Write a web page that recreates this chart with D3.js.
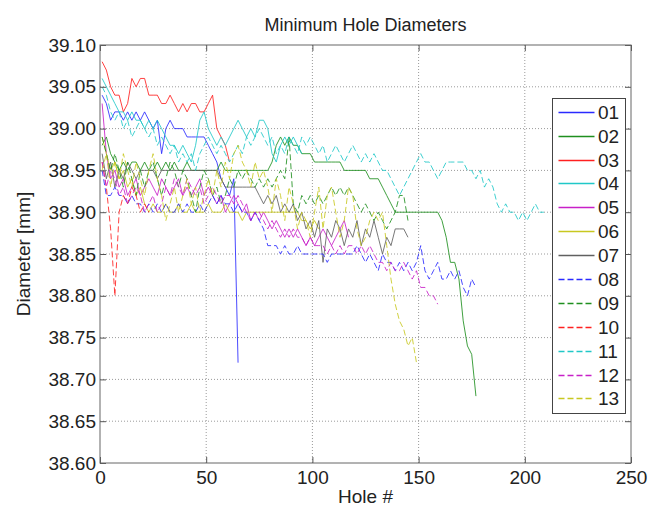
<!DOCTYPE html>
<html>
<head>
<meta charset="utf-8">
<script src="https://cdn.jsdelivr.net/npm/d3@7"></script>
<style>
  body { margin: 0; background: #fff; }
  text { font-family: "Liberation Sans", Arial, sans-serif; fill: #222; }
</style>
</head>
<body>
<div id="chart"></div>
<script>
const FRAME_WIDTH = 658;
const FRAME_HEIGHT = 507;
const MARGINS = { left: 100, right: 27, top: 45, bottom: 44 };

// holes are sampled every other hole, starting at hole 1
const HOLE_START = 1;
const HOLE_STEP = 2;

const seriesNames = ["01", "02", "03", "04", "05", "06", "07", "08", "09", "10", "11", "12", "13"];
const xTicks = [0, 50, 100, 150, 200, 250];
const yTicks = [38.60, 38.65, 38.70, 38.75, 38.80, 38.85, 38.90, 38.95, 39.00, 39.05, 39.10];

const s01 = [39.04,39.03,39.01,39.02,39.02,39.01,39.02,39.01,39.02,39.01,
  39.02,39.01,39.00,39.01,38.97,39.00,39.01,39.00,39.00,39.00,
  38.99,38.99,38.99,38.99,38.99,38.98,38.97,38.96,38.94,38.93,
  38.92,38.94,38.72];
const s02 = [38.98,38.99,38.97,38.96,38.95,38.96,38.95,38.96,38.96,38.95,
  38.96,38.95,38.95,38.96,38.95,38.96,38.95,38.96,38.95,38.95,
  38.96,38.95,38.95,38.95,38.95,38.95,38.95,38.95,38.96,38.95,
  38.95,38.95,38.95,38.95,38.95,38.95,38.95,38.95,38.95,38.95,
  38.96,38.98,38.99,38.98,38.99,38.98,38.98,38.97,38.97,38.97,
  38.96,38.96,38.96,38.96,38.96,38.96,38.96,38.95,38.95,38.95,
  38.95,38.95,38.95,38.94,38.94,38.94,38.93,38.92,38.91,38.90,
  38.90,38.90,38.90,38.90,38.90,38.90,38.90,38.90,38.90,38.90,
  38.89,38.87,38.84,38.84,38.82,38.77,38.74,38.73,38.68];
const s03 = [39.08,39.07,39.05,39.04,39.04,39.02,39.03,39.06,39.05,39.06,
  39.06,39.04,39.04,39.04,39.03,39.03,39.04,39.03,39.02,39.03,
  39.02,39.03,39.03,39.02,39.02,39.03,39.04,39.00,38.99,38.98,38.96];
const s04 = [39.06,39.05,39.04,39.03,39.02,39.02,39.01,39.02,39.01,39.01,
  39.00,39.01,39.00,39.01,39.00,38.99,38.98,38.98,38.97,38.98,
  38.97,38.96,38.98,39.01,39.02,39.00,38.99,38.98,38.99,38.98,
  38.99,39.00,39.01,39.00,38.99,39.00,38.99,39.01,39.01,39.00,
  38.97,38.96,38.98,38.99,38.98,38.99,38.98,38.97];
const s05 = [39.03,38.97,38.94,38.95,38.93,38.94,38.92,38.93,38.94,38.92,
  38.93,38.94,38.93,38.92,38.94,38.93,38.92,38.93,38.94,38.92,
  38.93,38.92,38.93,38.94,38.92,38.93,38.92,38.91,38.92,38.90,
  38.91,38.92,38.91,38.90,38.91,38.89,38.90,38.89,38.90,38.89,
  38.88,38.89,38.88,38.87,38.88,38.87,38.88,38.87,38.86,38.87,
  38.86,38.87,38.88,38.87,38.86,38.87,38.88,38.89,38.87];
const s06 = [38.99,38.97,38.95,38.96,38.94,38.95,38.93,38.94,38.92,38.93,
  38.91,38.90,38.91,38.90,38.90,38.91,38.90,38.90,38.91,38.90,
  38.90,38.91,38.90,38.90,38.90,38.91,38.90,38.90,38.90,38.91,
  38.90,38.90,38.90,38.89,38.90,38.90,38.90,38.90,38.90,38.90,
  38.90,38.90,38.90,38.90,38.90,38.90,38.90,38.89,38.89,38.88,38.89,38.88];
const s07 = [38.97,38.94,38.96,38.93,38.95,38.94,38.96,38.95,38.94,38.95,
  38.95,38.95,38.95,38.94,38.95,38.95,38.95,38.95,38.95,38.95,
  38.95,38.95,38.95,38.95,38.95,38.95,38.95,38.95,38.94,38.93,
  38.93,38.93,38.93,38.93,38.93,38.93,38.93,38.92,38.91,38.92,
  38.91,38.92,38.90,38.91,38.90,38.91,38.89,38.90,38.88,38.89,
  38.87,38.89,38.84,38.88,38.87,38.89,38.88,38.86,38.88,38.87,
  38.89,38.86,38.88,38.87,38.89,38.87,38.85,38.87,38.86,38.88,
  38.88,38.88,38.87];
const s08 = [38.95,38.92,38.92,38.93,38.92,38.92,38.91,38.92,38.91,38.91,
  38.90,38.91,38.90,38.91,38.90,38.91,38.90,38.90,38.91,38.90,
  38.91,38.90,38.90,38.91,38.90,38.91,38.92,38.91,38.92,38.91,
  38.91,38.90,38.91,38.90,38.90,38.89,38.90,38.89,38.88,38.86,
  38.86,38.86,38.85,38.86,38.85,38.85,38.86,38.85,38.85,38.85,
  38.85,38.85,38.85,38.84,38.85,38.85,38.85,38.85,38.85,38.85,
  38.86,38.85,38.84,38.85,38.84,38.83,38.85,38.84,38.84,38.83,
  38.84,38.83,38.84,38.83,38.84,38.86,38.83,38.82,38.83,38.84,
  38.82,38.82,38.83,38.82,38.83,38.81,38.80,38.82,38.81];
const s09 = [38.99,38.97,38.95,38.97,38.95,38.93,38.96,38.94,38.92,38.95,
  38.93,38.95,38.96,38.94,38.92,38.94,38.96,38.95,38.93,38.95,
  38.94,38.92,38.90,38.93,38.95,38.94,38.92,38.93,38.91,38.92,
  38.94,38.93,38.95,38.94,38.95,38.94,38.93,38.94,38.93,38.94,
  38.93,38.94,38.95,38.94,38.99,38.91,38.90,38.92,38.91,38.92,
  38.91,38.92,38.91,38.92,38.93,38.92,38.93,38.92,38.93,38.92,
  38.91,38.90,38.91,38.90,38.89,38.90,38.89,38.88,38.89,38.90,
  38.92,38.92,38.89];
const s10 = [38.96,38.93,38.88,38.80,38.90,38.92,38.91,38.93,38.92,38.90,38.91,38.90];
const s11 = [39.05,39.04,39.02,39.01,39.02,39.00,39.01,38.99,39.00,39.01,
  39.00,38.99,39.00,38.98,38.99,38.98,38.97,38.98,38.96,38.97,
  38.96,38.97,38.95,38.97,38.98,38.99,38.98,38.97,38.98,38.97,
  38.96,38.97,38.98,38.97,38.99,38.98,38.99,39.00,38.99,38.98,
  38.99,38.97,38.98,38.97,38.99,38.98,38.97,38.99,38.98,38.99,
  38.98,38.97,38.98,38.96,38.97,38.98,38.97,38.96,38.97,38.98,
  38.97,38.96,38.97,38.96,38.97,38.96,38.95,38.95,38.94,38.93,
  38.92,38.93,38.94,38.95,38.96,38.97,38.96,38.96,38.95,38.94,
  38.95,38.96,38.96,38.96,38.96,38.96,38.95,38.95,38.94,38.95,
  38.93,38.94,38.93,38.91,38.90,38.91,38.90,38.90,38.89,38.90,
  38.89,38.90,38.91,38.90,38.90];
const s12 = [38.96,38.93,38.95,38.94,38.92,38.93,38.91,38.92,38.93,38.92,
  38.90,38.91,38.92,38.90,38.91,38.93,38.92,38.94,38.93,38.92,
  38.94,38.93,38.92,38.93,38.91,38.92,38.93,38.92,38.91,38.92,
  38.92,38.91,38.92,38.91,38.90,38.89,38.90,38.90,38.89,38.88,
  38.89,38.88,38.87,38.88,38.87,38.88,38.87,38.87,38.86,38.87,
  38.86,38.86,38.86,38.85,38.86,38.85,38.86,38.85,38.86,38.86,
  38.85,38.86,38.85,38.86,38.85,38.84,38.84,38.83,38.84,38.83,
  38.83,38.84,38.83,38.82,38.83,38.81,38.81,38.80,38.80,38.79];
const s13 = [38.95,38.97,38.93,38.96,38.94,38.97,38.95,38.93,38.96,38.94,
  38.92,38.95,38.97,38.94,38.92,38.89,38.91,38.93,38.90,38.92,
  38.94,38.91,38.93,38.90,38.92,38.94,38.92,38.95,38.93,38.96,
  38.94,38.97,38.98,38.96,38.95,38.93,38.96,38.94,38.95,38.93,
  38.90,38.94,38.92,38.89,38.93,38.91,38.88,38.90,38.89,38.87,
  38.90,38.93,38.88,38.92,38.93,38.90,38.87,38.89,38.93,38.92,
  38.88,38.86,38.87,38.89,38.90,38.89,38.90,38.86,38.82,38.79,
  38.77,38.76,38.74,38.75,38.72];

const seriesValues = [s01, s02, s03, s04, s05, s06, s07, s08, s09, s10, s11, s12, s13];

// MATLAB-like colour order, solid for the first seven then dashed
const lineColors = ["#2a2aff", "#1f8f1f", "#ff2020", "#20c8c8", "#c820c8", "#c8c820", "#606060",
                    "#2a2aff", "#1f8f1f", "#ff2020", "#20c8c8", "#c820c8", "#c8c820"];
const lineDash = [null, null, null, null, null, null, null,
                  "6,3", "6,3", "6,3", "6,3", "6,3", "6,3"];

let plot_width = FRAME_WIDTH - MARGINS.left - MARGINS.right;
let plot_height = FRAME_HEIGHT - MARGINS.top - MARGINS.bottom;

let svg = d3.select("#chart")
  .append("svg")
  .attr("width", FRAME_WIDTH)
  .attr("height", FRAME_HEIGHT);

let g = svg.append("g")
  .attr("transform", "translate(" + MARGINS.left + "," + MARGINS.top + ")");

let x = d3.scaleLinear().domain([0, 250]).range([0, plot_width]);
let y = d3.scaleLinear().domain([38.60, 39.10]).range([plot_height, 0]);

// dotted grid
g.append("g")
  .selectAll("line")
  .data(xTicks.slice(1, -1))
  .enter()
  .append("line")
  .attr("x1", function(d) { return x(d); })
  .attr("x2", function(d) { return x(d); })
  .attr("y1", 0)
  .attr("y2", plot_height)
  .attr("stroke", "#9a9a9a")
  .attr("stroke-dasharray", "1,2");

g.append("g")
  .selectAll("line")
  .data(yTicks.slice(1, -1))
  .enter()
  .append("line")
  .attr("x1", 0)
  .attr("x2", plot_width)
  .attr("y1", function(d) { return y(d); })
  .attr("y2", function(d) { return y(d); })
  .attr("stroke", "#9a9a9a")
  .attr("stroke-dasharray", "1,2");

// series
let line = d3.line()
  .x(function(d, i) { return x(HOLE_START + i * HOLE_STEP); })
  .y(function(d) { return y(d); });

g.append("g")
  .selectAll("path")
  .data(seriesValues)
  .enter()
  .append("path")
  .attr("d", function(d) { return line(d); })
  .attr("fill", "none")
  .attr("stroke", function(d, i) { return lineColors[i]; })
  .attr("stroke-dasharray", function(d, i) { return lineDash[i]; })
  .attr("stroke-width", 1)
  .attr("stroke-opacity", 0.85);

// axes with inward ticks
let yAxis = g.append("g")
  .call(d3.axisLeft(y).tickValues(yTicks).tickFormat(d3.format(".2f"))
    .tickSizeInner(-6).tickSizeOuter(0).tickPadding(4));

let xAxis = g.append("g")
  .attr("transform", "translate(0," + plot_height + ")")
  .call(d3.axisBottom(x).tickValues(xTicks).tickFormat(d3.format("d"))
    .tickSizeInner(-6).tickSizeOuter(0).tickPadding(8));

let rAxis = g.append("g")
  .attr("transform", "translate(" + plot_width + ",0)")
  .call(d3.axisRight(y).tickValues(yTicks).tickFormat("").tickSizeInner(-6).tickSizeOuter(0));

let tAxis = g.append("g")
  .call(d3.axisTop(x).tickValues(xTicks).tickFormat("").tickSizeInner(-6).tickSizeOuter(0));

[yAxis, xAxis, rAxis, tAxis].forEach(function(a) {
  a.select(".domain").remove();
  a.selectAll("line").attr("stroke", "#555");
  a.selectAll("text")
    .style("font-size", "19px")
    .style("font-family", "'Liberation Sans', Arial, sans-serif")
    .attr("fill", "#222");
});

g.append("rect")
  .attr("width", plot_width)
  .attr("height", plot_height)
  .attr("fill", "none")
  .attr("stroke", "#666")
  .attr("stroke-width", 1);

// titles
svg.append("text")
  .attr("x", MARGINS.left + plot_width / 2)
  .attr("y", 31)
  .attr("text-anchor", "middle")
  .style("font-size", "18px")
  .text("Minimum Hole Diameters");

svg.append("text")
  .attr("x", MARGINS.left + plot_width / 2)
  .attr("y", 503)
  .attr("text-anchor", "middle")
  .style("font-size", "19px")
  .text("Hole #");

svg.append("text")
  .attr("transform", "translate(30," + (MARGINS.top + plot_height / 2) + ") rotate(-90)")
  .attr("text-anchor", "middle")
  .style("font-size", "19px")
  .text("Diameter [mm]");

// legend
let ROW = 23.9;
let legend = g.append("g")
  .attr("transform", "translate(" + 452.5 + "," + 53.5 + ")");

legend.append("rect")
  .attr("width", 73)
  .attr("height", Math.round((seriesNames.length - 1) * ROW + 28))
  .attr("fill", "#fff")
  .attr("stroke", "#444")
  .attr("stroke-width", 1);

seriesNames.forEach(function(name, i) {
  let rowY = Math.round(13.7 + i * ROW);
  legend.append("line")
    .attr("x1", 6)
    .attr("x2", 42)
    .attr("y1", rowY)
    .attr("y2", rowY)
    .attr("stroke", lineColors[i])
    .attr("stroke-dasharray", lineDash[i])
    .attr("stroke-width", 1.5);
  legend.append("text")
    .attr("x", 45.5)
    .attr("y", rowY + 6.5)
    .style("font-size", "19px")
    .text(name);
});
</script>
</body>
</html>
